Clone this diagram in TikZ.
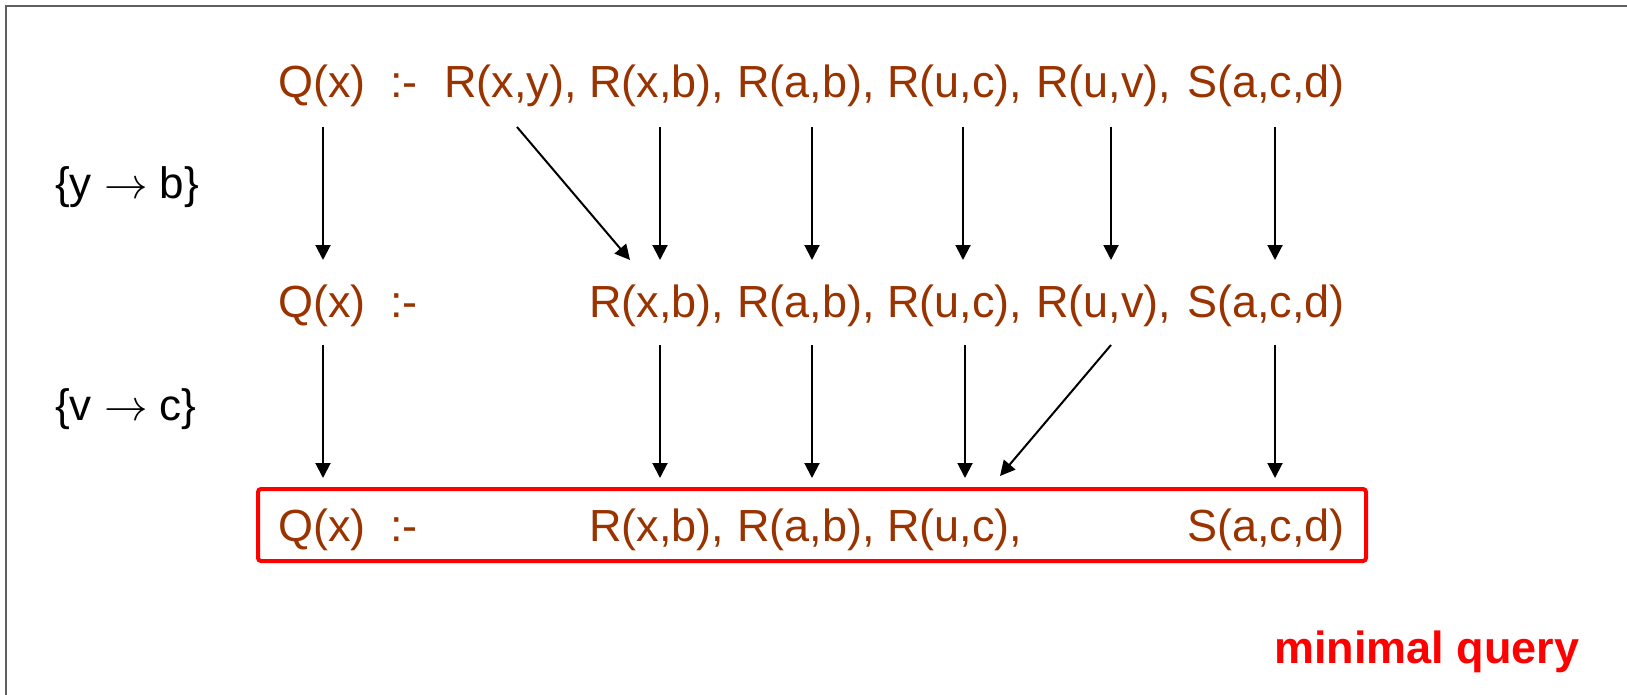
\documentclass[tikz,border=0pt]{standalone}
\usepackage{fontspec}
\setmainfont{Liberation Sans}
\usetikzlibrary{arrows.meta}
\definecolor{qbrown}{HTML}{993300}
\definecolor{framegray}{HTML}{606060}
\newcommand{\maparrow}{\scalebox{1.75}{$\rightarrow$}}
\tikzset{
  atom/.style={font=\fontsize{45}{54}\selectfont, text=qbrown, inner sep=0pt, anchor=base west},
  sublabel/.style={font=\fontsize{44}{52}\selectfont, text=black, inner sep=0pt, anchor=base west},
  arr/.style={line width=2pt, -{Triangle[length=15pt,width=15pt]}},
  minbox/.style={draw=red, line width=4pt, rounded corners=3pt},
}
\begin{document}
\begin{tikzpicture}[x=1pt,y=-1pt]
\useasboundingbox (0,0) rectangle (1627,695);
% frame
\draw[framegray, line width=2pt] (6,695) -- (6,6) -- (1627,6);
% row 1
\node[atom] (q1)  at (278,98) {Q(x)};
\node[atom] (if1) at (390,98) {:-};
\node[atom] (a1)  at (444,98) {R(x,y),};
\node[atom] (b1)  at (589,98) {R(x,b),};
\node[atom] (c1)  at (737,98) {R(a,b),};
\node[atom] (d1)  at (887,98) {R(u,c),};
\node[atom] (e1)  at (1036,98) {R(u,v),};
\node[atom] (f1)  at (1187,98) {S(a,c,d)};
% row 2
\node[atom] (q2)  at (278,317) {Q(x)};
\node[atom] (if2) at (390,317) {:-};
\node[atom] (b2)  at (589,317) {R(x,b),};
\node[atom] (c2)  at (737,317) {R(a,b),};
\node[atom] (d2)  at (887,317) {R(u,c),};
\node[atom] (e2)  at (1036,317) {R(u,v),};
\node[atom] (f2)  at (1187,317) {S(a,c,d)};
% row 3
\node[atom] (q3)  at (278,541) {Q(x)};
\node[atom] (if3) at (390,541) {:-};
\node[atom] (b3)  at (589,541) {R(x,b),};
\node[atom] (c3)  at (737,541) {R(a,b),};
\node[atom] (d3)  at (887,541) {R(u,c),};
\node[atom] (f3)  at (1187,541) {S(a,c,d)};
% box
\node[minbox, inner sep=0pt, minimum width=1108pt, minimum height=72pt, anchor=north west] (box) at (256,487) {};
% labels
\node[sublabel] (s1) at (55,199) {\{y \maparrow{} b\}};
\node[sublabel] (s2) at (55,420) {\{v \maparrow{} c\}};
\node[font=\fontsize{45}{54}\selectfont\bfseries, text=red, inner sep=0pt, anchor=base west] (mq) at (1274,663) {minimal query};
% arrow end points, step 1
\coordinate (tq1) at (323,127);  \coordinate (hq1) at (323,260);
\coordinate (ta1) at (517,127);  \coordinate (ha1) at (630,260);
\coordinate (tb1) at (660,127);  \coordinate (hb1) at (660,260);
\coordinate (tc1) at (812,127);  \coordinate (hc1) at (812,260);
\coordinate (td1) at (963,127);  \coordinate (hd1) at (963,260);
\coordinate (te1) at (1111,127); \coordinate (he1) at (1111,260);
\coordinate (tf1) at (1275,127); \coordinate (hf1) at (1275,260);
% arrow end points, step 2
\coordinate (tq2) at (323,345);  \coordinate (hq2) at (323,478);
\coordinate (tb2) at (660,345);  \coordinate (hb2) at (660,478);
\coordinate (tc2) at (812,345);  \coordinate (hc2) at (812,478);
\coordinate (td2) at (965,345);  \coordinate (hd2) at (965,478);
\coordinate (te2) at (1111,345); \coordinate (he2) at (1000,476);
\coordinate (tf2) at (1275,345); \coordinate (hf2) at (1275,478);
\foreach \n in {q1,a1,b1,c1,d1,e1,f1,q2,b2,c2,d2,e2,f2}
  \draw[arr] (t\n) -- (h\n);
\end{tikzpicture}
\end{document}
